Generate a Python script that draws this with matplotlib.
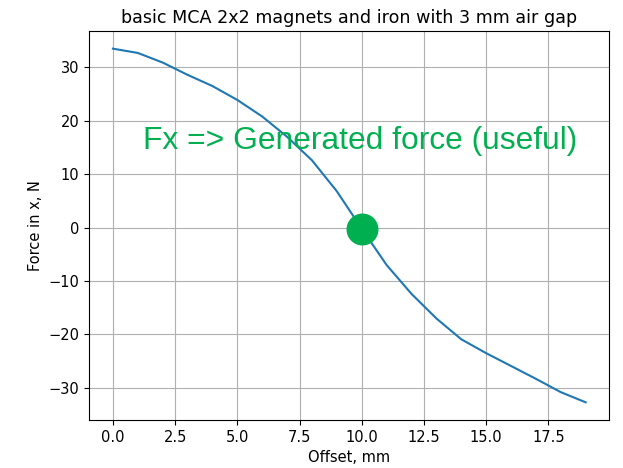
import matplotlib.pyplot as plt

# オフセット [mm] と x方向の力 [N]
offset_mm = [0, 1, 2, 3, 4, 5, 6, 7, 8, 9, 10, 11, 12, 13, 14, 15, 16, 17, 18, 19]
force_x = [33.5, 32.7, 30.9, 28.6, 26.5, 23.9, 20.8, 17.0, 12.6, 6.8, -0.2,
           -7.0, -12.4, -17.0, -20.9, -23.5, -25.9, -28.3, -30.8, -32.7]

# 強調する点
mark_x = 10
mark_y = -0.25
note_text = "Fx => Generated force (useful)"
note_pos = (1.2, 16.3)

green = "#00B050"

plt.rcParams["font.size"] = 10.5

fig = plt.figure(figsize=(6.23, 4.68), dpi=100)
ax = fig.add_axes([0.1433, 0.1026, 0.8347, 0.8312])

ax.plot(offset_mm, force_x, color="#1f77b4", linewidth=1.5)
ax.plot([mark_x], [mark_y], "o", color=green, markersize=22, zorder=4)
ax.text(note_pos[0], note_pos[1], note_text, color=green, fontsize=22.9,
        family="Liberation Sans", ha="left", va="center", zorder=5)

ax.set_title("basic MCA 2x2 magnets and iron with 3 mm air gap")
ax.set_xlabel("Offset, mm")
ax.set_ylabel("Force in x, N")
ax.grid(True)

fig.savefig("out.png", dpi=100)
